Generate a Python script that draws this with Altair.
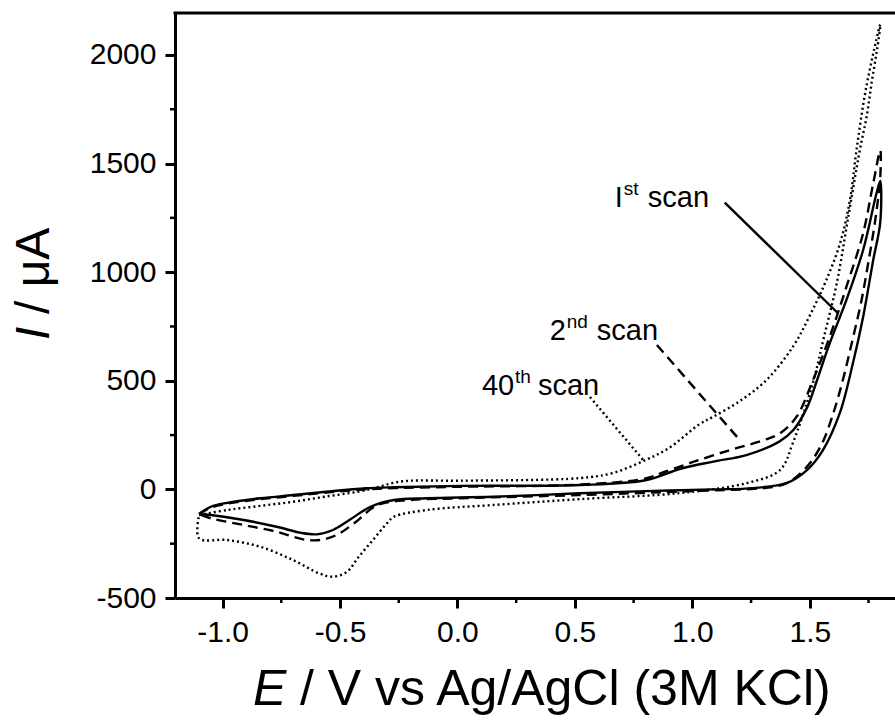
import altair as alt
import pandas as pd

# ---------------- data ----------------
# 1st scan (solid): loop order, forward branch then reverse branch
E1 = [-1.10, -1.05, -0.98, -0.84, -0.70, -0.56, -0.39, -0.27, 0.01, 0.52, 0.80, 0.95, 1.09, 1.23, 1.37, 1.43, 1.49, 1.53, 1.585, 1.656, 1.727, 1.784, 1.80,
      1.80, 1.77, 1.727, 1.684, 1.628, 1.556, 1.488, 1.403, 1.258, 1.088, 0.80, 0.52, 0.15, -0.13, -0.27, -0.37, -0.46, -0.53, -0.60, -0.67, -0.77, -0.91, -1.05, -1.10]
I1 = [-113, -80, -62, -41, -26, -11, 5, 10, 16, 20, 42, 95, 128, 158, 220, 273, 381, 500, 673, 872, 1102, 1363, 1420,
      1230, 1056, 794, 583, 352, 181, 89, 30, 6, 0, -8, -18, -34, -41, -49, -80, -141, -187, -207, -199, -172, -141, -118, -113]

# 2nd scan (dashed)
E2 = [-1.10, -1.05, -0.98, -0.84, -0.70, -0.56, -0.39, -0.27, 0.01, 0.52, 0.80, 0.88, 1.00, 1.16, 1.30, 1.373, 1.444, 1.514, 1.585, 1.656, 1.727, 1.770, 1.80,
      1.80, 1.78, 1.75, 1.72, 1.68, 1.64, 1.60, 1.56, 1.52, 1.48, 1.44, 1.40, 1.35, 1.25, 1.00, 0.52, 0.01, -0.20, -0.34, -0.44, -0.515, -0.586, -0.657, -0.77, -0.91, -1.05, -1.10]
I2 = [-113, -84, -66, -45, -30, -15, 0, 6, 12, 22, 50, 80, 125, 181, 225, 258, 335, 504, 703, 933, 1179, 1409, 1560,
      1440, 1250, 1050, 870, 680, 500, 350, 230, 150, 95, 55, 28, 12, 2, -8, -26, -41, -49, -72, -156, -210, -233, -230, -195, -164, -133, -113]

# 40th scan (dotted)
E3 = [-1.10, -0.98, -0.84, -0.70, -0.56, -0.42, -0.34, -0.27, -0.20, 0.01, 0.52, 0.66, 0.79, 0.90, 1.03, 1.09, 1.20, 1.316, 1.43, 1.50, 1.565, 1.628, 1.671, 1.699, 1.74, 1.80,
      1.80, 1.786, 1.763, 1.742, 1.713, 1.66, 1.615, 1.56, 1.513, 1.428, 1.373, 1.232, 0.947, 0.52, 0.15, -0.13, -0.27, -0.30, -0.36, -0.42, -0.47, -0.53, -0.59, -0.70, -0.84, -0.98, -1.10, -1.10]
I3 = [-118, -95, -76, -57, -33, -10, 10, 31, 40, 40, 52, 75, 130, 190, 300, 335, 405, 504, 660, 800, 950, 1130, 1333, 1563, 1850, 2140,
      2130, 2023, 1870, 1716, 1563, 1230, 950, 700, 490, 214, 89, 29, -17, -45, -72, -95, -126, -156, -233, -310, -379, -402, -386, -325, -264, -233, -225, -118]

# annotation labels: main text, superscript, rest; anchor (E, I) of text start
LABEL_MAIN = ["I", "2", "40"]
LABEL_SUP = ["st", "nd", "th"]
LABEL_REST = ["scan", "scan", "scan"]
LABEL_E = [0.670, 0.393, 0.104]
LABEL_I = [1302, 688, 435]

# leader lines from label to curve
LEAD_E0 = [1.138, 0.849, 0.564]
LEAD_I0 = [1320, 665, 425]
LEAD_E1 = [1.619, 1.202, 0.798]
LEAD_I1 = [812, 227, 126]

X_TICKS = [-1.0, -0.5, 0.0, 0.5, 1.0, 1.5]
X_MINOR = [-0.75, -0.25, 0.25, 0.75, 1.25, 1.75]
Y_TICKS = [-500, 0, 500, 1000, 1500, 2000]
Y_MINOR = [-250, 250, 750, 1250, 1750]

# ---------------- chart ----------------
W, H = 720, 585
FONT = "Liberation Sans"
TICKFS = 30

xs = alt.Scale(domain=[-1.2025, 1.8627], nice=False, zero=False)
ys = alt.Scale(domain=[-500, 2193], nice=False, zero=False)

common_axis = dict(title=None, grid=False, domainColor="black", domainWidth=3,
                   tickColor="black", tickWidth=3, tickSize=10,
                   labelFont=FONT, labelFontSize=TICKFS, labelColor="black")
x_axis = alt.Axis(values=X_TICKS, labelPadding=9,
                  labelExpr="replace(format(datum.value, '.1f'), '\u2212', '-')", **common_axis)
y_axis = alt.Axis(values=Y_TICKS, labelPadding=9,
                  labelExpr="replace(format(datum.value, 'd'), '\u2212', '-')", **common_axis)


def X(f):
    return alt.X(f, type="quantitative", scale=xs, axis=x_axis)


def Y(f):
    return alt.Y(f, type="quantitative", scale=ys, axis=y_axis)


def loop_df(E, I):
    return pd.DataFrame({"E": E, "I": I, "idx": list(range(len(E)))})


layers = []
styles = [dict(), dict(strokeDash=[10, 6]), dict(strokeDash=[2, 3])]
for (E, I), st in zip([(E1, I1), (E2, I2), (E3, I3)], styles):
    layers.append(
        alt.Chart(loop_df(E, I)).mark_line(color="black", strokeWidth=2.4,
                                            interpolate="catmull-rom", **st)
        .encode(x=X("E"), y=Y("I"), order=alt.Order("idx:Q"))
    )

# leader lines
for k in range(3):
    df = pd.DataFrame({"E0": [LEAD_E0[k]], "I0": [LEAD_I0[k]], "E1": [LEAD_E1[k]], "I1": [LEAD_I1[k]]})
    layers.append(
        alt.Chart(df).mark_rule(color="black", strokeWidth=2.4, **styles[k])
        .encode(x=X("E0"), y=Y("I0"), x2="E1", y2="I1")
    )

# labels
sup_dx = [9, 17, 33]
rest_dx = [33, 47, 56]
for k in range(3):
    df = pd.DataFrame({"E": [LABEL_E[k]], "I": [LABEL_I[k]], "main": [LABEL_MAIN[k]],
                       "sup": [LABEL_SUP[k]], "rest": [LABEL_REST[k]]})
    base = alt.Chart(df)
    layers.append(base.mark_text(align="left", baseline="alphabetic", font=FONT, fontSize=29, color="black")
                  .encode(x=X("E"), y=Y("I"), text="main:N"))
    layers.append(base.mark_text(align="left", baseline="alphabetic", font=FONT, fontSize=19, color="black",
                                 dx=sup_dx[k], dy=-12)
                  .encode(x=X("E"), y=Y("I"), text="sup:N"))
    layers.append(base.mark_text(align="left", baseline="alphabetic", font=FONT, fontSize=29, color="black",
                                 dx=rest_dx[k])
                  .encode(x=X("E"), y=Y("I"), text="rest:N"))

# minor ticks
layers.append(alt.Chart(pd.DataFrame({"E": X_MINOR})).mark_rule(color="black", strokeWidth=2.5)
              .encode(x=X("E"), y=alt.value(H), y2=alt.value(H + 5)))
layers.append(alt.Chart(pd.DataFrame({"I": Y_MINOR})).mark_rule(color="black", strokeWidth=2.5)
              .encode(y=Y("I"), x=alt.value(0), x2=alt.value(-5)))

# top frame line
layers.append(alt.Chart(pd.DataFrame({"a": [0]})).mark_rule(color="black", strokeWidth=3)
              .encode(x=alt.value(-1.5), x2=alt.value(W), y=alt.value(0)))

# axis titles (mixed italic / upright)
tdf = pd.DataFrame({"a": [0]})
layers.append(alt.Chart(tdf).mark_text(align="left", baseline="alphabetic", font=FONT, fontSize=50,
                                       fontStyle="italic", color="black", text="E")
              .encode(x=alt.value(78), y=alt.value(692)))
layers.append(alt.Chart(tdf).mark_text(align="left", baseline="alphabetic", font=FONT, fontSize=50,
                                       color="black", text="/ V vs Ag/AgCl (3M KCl)")
              .encode(x=alt.value(125), y=alt.value(692)))
layers.append(alt.Chart(tdf).mark_text(align="left", baseline="alphabetic", font=FONT, fontSize=48,
                                       fontStyle="italic", color="black", text="I", angle=270)
              .encode(x=alt.value(-126), y=alt.value(327)))
layers.append(alt.Chart(tdf).mark_text(align="left", baseline="alphabetic", font=FONT, fontSize=48,
                                       color="black", text="/ μA", angle=270)
              .encode(x=alt.value(-126), y=alt.value(301)))

chart = alt.layer(*layers).properties(
    width=W, height=H,
    padding={"left": 175, "top": 13, "right": 0, "bottom": 124},
    autosize=alt.AutoSizeParams(type="none"),
    background="white",
).configure_view(strokeWidth=0)

chart.save("out.html", embed_options={"renderer": "svg", "actions": False})
